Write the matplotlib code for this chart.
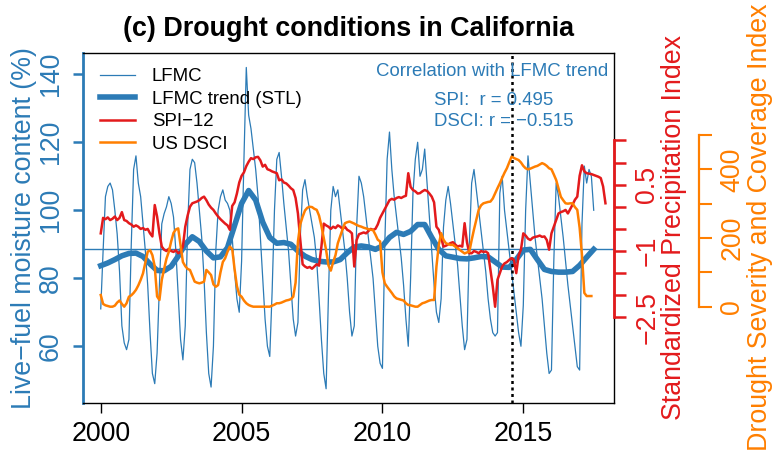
import numpy as np
import matplotlib.pyplot as plt

plt.rcParams['font.family'] = ['Liberation Sans', 'DejaVu Sans']

# Données (séries mensuelles à partir de janvier 2000)
lfmc = [
    71, 88, 104, 107, 108, 106, 100, 93, 82, 66, 61, 59,
    62, 90, 112, 116, 108, 104, 96, 88, 78, 64, 52, 49,
    58, 78, 96, 99, 101, 104, 102, 98, 88, 75, 62, 56,
    66, 95, 112, 115, 114, 108, 100, 92, 80, 64, 52, 48,
    60, 88, 100, 104, 106, 103, 102, 100, 92, 82, 74, 70,
    85, 115, 142, 128, 124, 118, 112, 104, 92, 80, 68, 60,
    57, 76, 100, 115, 117, 110, 102, 95, 88, 78, 68, 63,
    67, 92, 106, 109, 104, 100, 96, 92, 85, 74, 62, 52,
    47.5, 75, 100, 107, 104, 106, 100, 94, 88, 80, 70, 63,
    66, 95, 110, 108, 104, 98, 92, 86, 80, 70, 60, 55,
    53.5, 90, 115, 123, 112, 104, 98, 92, 86, 78, 68, 60,
    80, 105, 115, 120, 110, 112, 118, 108, 98, 88, 78, 70,
    67, 74, 95, 103, 107, 102, 96, 90, 84, 75, 66, 59,
    62, 90, 108, 112, 106, 100, 94, 88, 82, 74, 68, 64,
    63, 64, 105, 110, 100, 94, 88, 82, 76, 70, 64, 60,
    72, 100, 116, 108, 100, 92, 86, 80, 74, 66, 58, 52,
    53, 85, 108, 104, 98, 92, 85, 78, 72, 66, 60, 54,
    53, 96, 113, 108, 112, 110, 100,
]

# tendance STL (valeurs trimestrielles)
lfmc_trend = [
    83.7, 84.5, 85.5, 86.6, 87.3, 87.4, 86.4, 84.2, 82.3, 82.2,
    83.5, 86.5, 90.0, 92.2, 90.8, 88.0, 86.0, 86.3, 89.0, 95.5,
    102.0, 105.8, 103.0, 96.5, 92.0, 90.3, 90.5, 90.0, 88.0, 86.5,
    85.5, 85.0, 84.8, 84.8, 85.5, 87.5, 89.2, 89.5, 89.2, 88.5,
    89.5, 92.0, 93.5, 92.9, 93.8, 95.8, 95.8, 92.0, 88.5, 86.6,
    86.2, 85.8, 85.7, 86.0, 86.4, 86.3, 84.8, 83.3, 83.2, 85.5,
    88.3, 88.5, 85.5, 82.6, 82.0, 81.8, 81.8, 82.0, 83.8, 86.2,
    88.5,
]

spi12 = [
    -0.6, -0.25, -0.28, -0.24, -0.3, -0.27, -0.22, -0.3, -0.25, -0.12, -0.3, -0.32,
    -0.37, -0.4, -0.45, -0.42, -0.45, -0.5, -0.48, -0.52, -0.5, -0.6, -0.67, 0.04,
    -0.22, -0.6, -0.9, -0.97, -1.0, -0.95, -1.0, -1.02, -0.98, -1.05, -1.02, -0.9,
    -0.45, -0.2, 0.0, 0.08, 0.1, 0.12, 0.15, 0.2, 0.23, 0.15, 0.05, -0.02,
    -0.07, -0.15, -0.22, -0.28, -0.33, -0.38, -0.42, -0.52, 0.02, 0.1, 0.3, 0.55,
    0.7, 0.78, 0.92, 1.02, 1.1, 1.08, 1.12, 1.13, 1.05, 0.91, 0.95, 0.85,
    0.83, 0.8, 0.78, 0.76, 0.6, 0.62, 0.55, 0.53, 0.48, 0.42, 0.38, 0.2,
    -0.15, -0.75, -1.3, -1.35, -1.38, -1.36, -1.4, -1.35, -1.3, -1.33, -0.9, -0.38,
    -0.42, -0.45, -0.5, -0.45, -0.48, -0.42, -0.45, -0.5, -0.45, -0.52, -0.55, -0.6,
    -1.35, -0.75, -0.62, -0.6, -0.58, -0.6, -0.55, -0.5, -0.52, -0.5, -0.4, -0.25,
    -0.15, -0.05, 0.05, 0.15, 0.18, 0.16, 0.2, 0.22, 0.2, 0.23, 0.25, 0.76,
    0.45, 0.38, 0.35, 0.3, 0.31, 0.35, 0.38, 0.36, 0.3, 0.23, 0.1, -0.45,
    -0.52, -0.7, -0.9, -0.88, -0.85, -0.82, -0.8, -0.85, -0.9, -0.88, -0.9, -0.37,
    -0.8, -1.05, -1.05, -1.0, -1.02, -1.05, -1.0, -1.02, -1.01, -1.05, -1.43, -1.8,
    -2.26, -1.65, -1.5, -1.35, -1.28, -1.25, -1.2, -1.16, -1.2, -1.5, -1.1, -0.97,
    -0.6, -0.65, -0.72, -0.75, -0.7, -0.68, -0.67, -0.65, -0.68, -0.67, -0.75, -0.97,
    -0.6, -0.45, -0.3, -0.15, -0.12, -0.1, -0.07, -0.15, -0.05, 0.05, 0.16, 0.23,
    0.7, 0.94, 0.8, 0.76, 0.75, 0.74, 0.72, 0.7, 0.68, 0.65, 0.46, 0.08,
]

dsci = [
    34, 8, 4, 2, 0, 0, 3, 12, 18, 8, 0, 10,
    29, 33, 40, 49, 62, 78, 97, 128, 160, 165, 150, 117,
    30, 19.5, 78, 110, 140, 160, 190, 215, 225, 228, 180, 130,
    118, 110, 107, 90, 73, 70, 68, 70, 73, 107, 100, 92,
    65, 58, 63, 100, 130, 141, 160, 175, 168, 110, 60, 35,
    29, 18, 10, 5, 2, 0, 0, 0, 0, 0, 0, 0,
    0, 3, 6, 10, 10, 12, 15, 18, 19.5, 22, 29, 70,
    190, 240, 262, 280, 288, 291, 290, 285, 282, 265, 235, 200,
    165, 120, 105, 130, 150, 185, 205, 225, 243, 246, 248, 245,
    242, 238, 235, 233, 230, 228, 226, 224, 223, 210, 195, 190,
    100, 68, 58, 49, 40, 30, 24, 22, 20, 18, 10, 5,
    4, 2, 0, 0, 5, 10, 12, 15, 18, 19.5, 19.5, 117,
    180, 214, 195, 185, 182, 180, 180, 175, 170, 165, 160, 155,
    158, 160, 194, 225, 253, 282, 295, 301, 303, 305, 306, 315,
    330, 345, 359, 375, 390, 403, 420, 437, 433, 430, 427, 420,
    410, 403, 400, 402, 405, 408, 410, 414, 418, 415, 410, 403,
    400, 385, 369, 345, 320, 310, 301, 300, 301, 301, 290, 282,
    230, 150, 40, 31, 31, 31,
]

lfmc_moyenne = 88.5
date_repere = 2014.59
r_spi = 0.495
r_dsci = -0.515

annees = [2000, 2005, 2010, 2015]
ticks_lfmc = [60, 80, 100, 120, 140]
ticks_spi = [-2.5, -2.0, -1.5, -1.0, -0.5, 0.0, 0.5, 1.0, 1.5]
labels_spi = ['−2.5', '', '', '−1', '', '', '0.5', '', '']
ticks_dsci = [0, 100, 200, 300, 400, 500]
labels_dsci = ['0', '', '200', '', '400', '']

# axes temporels (années décimales)
t_lfmc = 2000 + np.arange(len(lfmc)) / 12
t_trend = 2000 + np.arange(len(lfmc_trend)) / 4
t_spi = 2000 + np.arange(len(spi12)) / 12
t_dsci = 2000 + np.arange(len(dsci)) / 12

bleu = '#2c7bb6'
rouge = '#e31a1c'
orange = '#ff7f00'

W, H = 774, 454
fig = plt.figure(figsize=(W / 100, H / 100), dpi=100)
x0, x1, y0, y1 = 83, 614, 52.5, 402.7
ax = fig.add_axes([x0 / W, 1 - y1 / H, (x1 - x0) / W, (y1 - y0) / H])
ax2 = ax.twinx()
ax3 = ax.twinx()

ligne_lfmc, = ax.plot(t_lfmc, lfmc, color=bleu, lw=0.9)
ligne_trend, = ax.plot(t_trend, lfmc_trend, color=bleu, lw=4)
ax.axhline(lfmc_moyenne, color=bleu, lw=1)
ax.axvline(date_repere, color='black', lw=1.8, ls=(0, (1.2, 1.4)))
ligne_spi, = ax2.plot(t_spi, spi12, color=rouge, lw=1.8)
ligne_dsci, = ax3.plot(t_dsci, dsci, color=orange, lw=1.8)

ax.set_xlim(1999.37, 2018.22)
ax.set_ylim(43.4, 146.4)
ax2.set_ylim(-4.43, 3.49)
ax3.set_ylim(-279.6, 740.2)

ax.set_xticks(annees)
ax.set_yticks(ticks_lfmc)
ax2.set_yticks(ticks_spi)
ax2.set_yticklabels(labels_spi)
ax3.set_yticks(ticks_dsci)
ax3.set_yticklabels(labels_dsci)

# cadre
for s in ['top', 'bottom', 'right']:
    ax.spines[s].set_color('black')
    ax.spines[s].set_linewidth(1)
ax.spines['left'].set_color(bleu)
ax.spines['left'].set_linewidth(2)
for a in [ax2, ax3]:
    for s in ['left', 'top', 'bottom']:
        a.spines[s].set_visible(False)
ax2.spines['right'].set_color(rouge)
ax2.spines['right'].set_linewidth(2)
ax2.spines['right'].set_bounds(-2.5, 1.5)
ax3.spines['right'].set_color(orange)
ax3.spines['right'].set_linewidth(1.6)
ax3.spines['right'].set_bounds(0, 500)
ax3.spines['right'].set_position(('outward', 61.2))

ax.tick_params(axis='x', length=7.4, width=1, labelsize=19.3, pad=5.5)
ax.tick_params(axis='y', colors=bleu, length=7.2, width=1.8, labelsize=19.3,
               pad=6.8, labelrotation=90)
ax2.tick_params(axis='y', colors=rouge, length=8.4, width=1.8, labelsize=19.3,
                pad=6.2, labelrotation=90)
ax3.tick_params(axis='y', colors=orange, length=9, width=1.5, labelsize=19.3,
                pad=5.5, labelrotation=90)
for a in [ax, ax2, ax3]:
    for lbl in a.get_yticklabels():
        lbl.set_va('center')

# titres
fig.text(348.5 / W, 1 - 36 / H, '(c) Drought conditions in California',
         ha='center', va='baseline', fontsize=19.4, fontweight='bold')
yc = 1 - (y0 + y1) / 2 / H
fig.text(24 / W, yc, 'Live−fuel moisture content (%)', rotation=90,
         ha='center', va='center', color=bleu, fontsize=19.3)
fig.text(674 / W, yc, 'Standardized Precipitation Index', rotation=90,
         ha='center', va='center', color=rouge, fontsize=19.3)
fig.text(760 / W, yc, 'Drought Severity and Coverage Index', rotation=90,
         ha='center', va='center', color=orange, fontsize=19.3)

# légende et corrélations
ax3.legend([ligne_lfmc, ligne_trend, ligne_spi, ligne_dsci],
           ['LFMC', 'LFMC trend (STL)', 'SPI−12', 'US DSCI'],
           loc='upper left', bbox_to_anchor=(100 / W, 1 - 68 / H),
           bbox_transform=fig.transFigure, frameon=False, fontsize=13.4,
           handlelength=1.88, handletextpad=0.9, labelspacing=0.3,
           borderpad=0, borderaxespad=0)

fig.text(491.7 / W, 1 - 76 / H, 'Correlation with LFMC trend',
         ha='center', va='baseline', color=bleu, fontsize=13.4)
fig.text(434 / W, 1 - 105 / H, f'SPI:  r = {r_spi:.3f}',
         ha='left', va='baseline', color=bleu, fontsize=13.4)
fig.text(434 / W, 1 - 126 / H, f'DSCI: r = {r_dsci:.3f}'.replace('-', '−'),
         ha='left', va='baseline', color=bleu, fontsize=13.4)

fig.savefig('out.png', dpi=100)
